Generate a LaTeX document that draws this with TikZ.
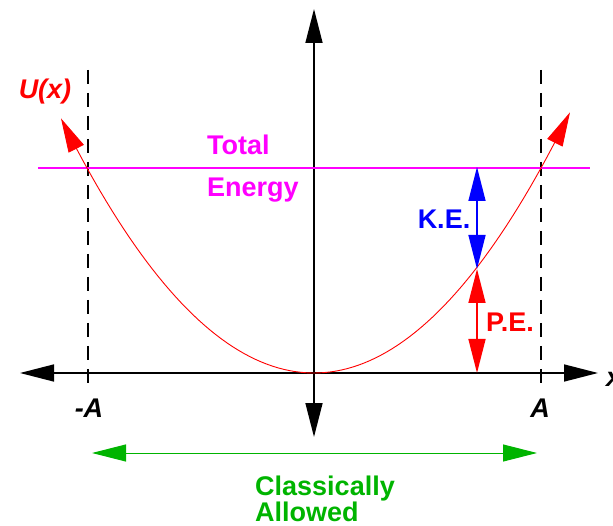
\documentclass[tikz,border=0pt]{standalone}
\usepackage{fontspec}
\setmainfont{Liberation Sans}
\usetikzlibrary{arrows.meta,positioning}
\definecolor{cPot}  {HTML}{FF0000}
\definecolor{cKin}  {HTML}{0000FF}
\definecolor{cTot}  {HTML}{FF00FF}
\definecolor{cAllow}{HTML}{00B400}
\tikzset{
  >={Triangle[length=34pt,width=17pt]},
  lbl/.style={inner sep=0pt,font=\fontsize{27}{32}\selectfont\bfseries},
  ilbl/.style={lbl,font=\fontsize{27}{32}\selectfont\bfseries\itshape},
  axis/.style={<->,line width=1.5pt,black},
  bnd/.style={line width=1.2pt,dash pattern=on 14pt off 9pt},
  dar/.style={<->,line width=1.5pt},
}
\begin{document}
\begin{tikzpicture}[x=1pt,y=-1pt]
    \useasboundingbox (0,0) rectangle (613,526);
    \coordinate (xl) at (20,373);
    \coordinate (xr) at (598,373);
    \coordinate (yt) at (314,9);
    \coordinate (yb) at (314,437);
    \coordinate (al) at (88,70);
    \coordinate (ab) at (88,388);
    \coordinate (ar) at (541,70);
    \coordinate (arb) at (541,388);
    \coordinate (el) at (38,168);
    \coordinate (er) at (590,168);
    \coordinate (ktop) at (477,167);
    \coordinate (kmid) at (477,269);
    \coordinate (kbot) at (477,373);
    \coordinate (gl) at (92,453);
    \coordinate (gr) at (537,453);
    \draw[axis] (xl)--(xr);
    \draw[axis] (yb)--(yt);
    \draw[bnd] (al)--(ab);
    \draw[bnd] (ar)--(arb);
    \draw[cTot,line width=1.2pt] (el)--(er);
    \draw[cPot,<->,line width=0.9pt] plot[domain=-25.3:25.6,samples=90]
         ({314+10*\x},{373-0.3978*\x*\x});
    \draw[dar,cKin] (ktop)--(kmid);
    \draw[dar,cPot] (kmid)--(kbot);
    \draw[<->,cAllow,line width=1pt] (gl)--(gr);
    \node[ilbl,text=cPot] (ux) at (45,92) {U(x)};
    \node[ilbl,anchor=west] (xv) at (606,379) {x};
    \node[ilbl] (mA) at (89,408) {-A};
    \node[ilbl] (pA) at (540,408) {A};
    \node[lbl,text=cTot,anchor=base west] (tot) at (207,155) {Total};
    \node[lbl,text=cTot,anchor=base west] (eng) at (207,197) {Energy};
    \node[lbl,text=cKin] (ke) at (444,219) {K.E.};
    \node[lbl,text=cPot] (pe) at (510,322) {P.E.};
    \node[lbl,text=cAllow,anchor=base west] (cl) at (255,495) {Classically};
    \node[lbl,text=cAllow,anchor=base west] (alw) at (255,521) {Allowed};
\end{tikzpicture}
\end{document}
